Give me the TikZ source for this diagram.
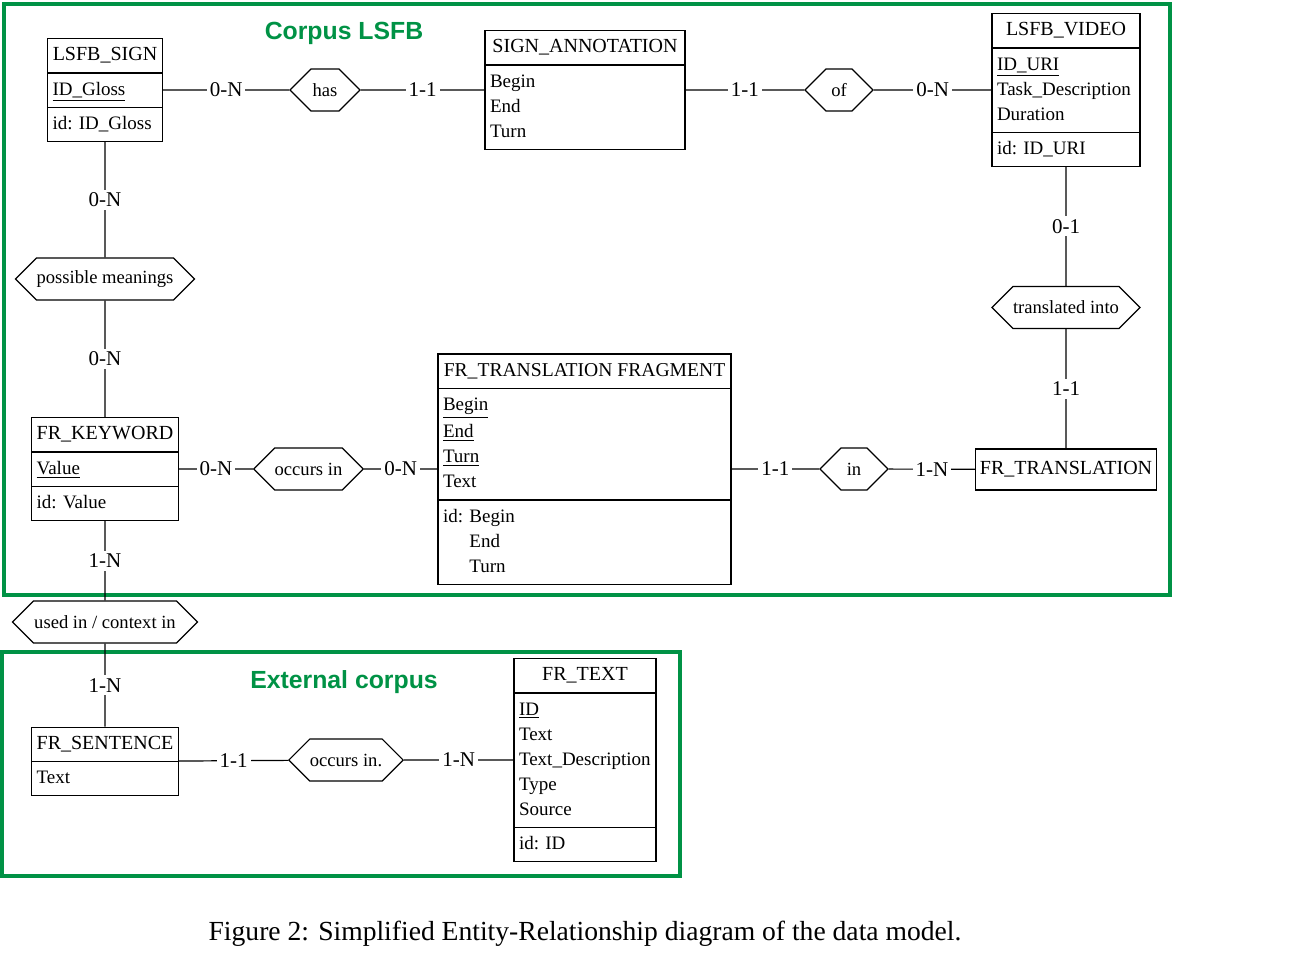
\documentclass[tikz,border=0pt]{standalone}
\usepackage{fontspec}
\setmainfont{Liberation Serif}
\newfontfamily\headfont{Liberation Sans}
\usetikzlibrary{shapes.multipart,shapes.symbols}
\definecolor{framegreen}{RGB}{0,146,69}
\newcommand{\entfont}{\fontsize{10}{12.5}\selectfont}
\newcommand{\attfont}{\fontsize{9.5}{12.5}\selectfont}

\begin{document}
\begin{tikzpicture}[x=0.5pt,y=-0.5pt,
  entity/.style={draw, line width=0.6pt, rectangle split, rectangle split parts=3,
    rectangle split part align={center,left,left}, align=left,
    inner xsep=2.5pt, inner ysep=2pt, font=\attfont},
  relation/.style={draw, line width=0.6pt, signal, signal to=east and west,
    signal pointer angle=90, minimum height=21pt, inner xsep=0pt,
    font=\fontsize{9.3}{11}\selectfont},
  card/.style={fill=white, inner sep=1.5pt, font=\fontsize{10.5}{12.5}\selectfont},
  link/.style={line width=0.6pt},
  frame/.style={draw=framegreen, line width=1.6pt},
  corpus/.style={text=framegreen, font=\headfont\bfseries\fontsize{12.4}{14}\selectfont}]
   \useasboundingbox (0,0) rectangle (1290,975);

   % green corpus frames
   \draw[frame] (4,4) rectangle (1170,595);
   \draw[frame] (2,652) rectangle (680,876);
   \node[corpus] (lsfb) at (344,33) {Corpus LSFB};
   \node[corpus] (external) at (344,682) {External corpus};

   % entities
   \node[entity, minimum width=57.5pt] (sign) at (105,90)
     {\entfont\strut LSFB\_SIGN
      \nodepart{two}\strut\underline{ID\_Gloss}
      \nodepart{three}\strut id: ID\_Gloss};
   \node[entity, rectangle split parts=2, minimum width=100pt] (annot) at (585,90)
     {\entfont\strut SIGN\_ANNOTATION
      \nodepart{two}\strut Begin\\\strut End\\\strut Turn};
   \node[entity, minimum width=74pt] (video) at (1066,90)
     {\entfont\strut LSFB\_VIDEO
      \nodepart{two}\strut\underline{ID\_URI}\\\strut Task\_Description\\\strut Duration
      \nodepart{three}\strut id: ID\_URI};
   \node[entity, minimum width=146.5pt] (fragment) at (584.5,469)
     {\fontsize{9.8}{12.5}\selectfont\strut FR\_TRANSLATION FRAGMENT
      \nodepart{two}\strut\underline{Begin}\\\strut\underline{End}\\\strut\underline{Turn}\\\strut Text
      \nodepart{three}\strut id: Begin\\\strut\phantom{id: }End\\\strut\phantom{id: }Turn};
   \node[entity, minimum width=73pt] (keyword) at (105,469)
     {\entfont\strut FR\_KEYWORD
      \nodepart{two}\strut\underline{Value}
      \nodepart{three}\strut id: Value};
   \node[draw, line width=0.6pt, minimum width=90.5pt, minimum height=20.5pt,
     inner xsep=1pt, font=\entfont] (translation) at (1066,469.5) {FR\_TRANSLATION};
   \node[entity, rectangle split parts=2, minimum width=73pt] (sentence) at (105,761.5)
     {\entfont\strut FR\_SENTENCE
      \nodepart{two}\strut Text};
   \node[entity, minimum width=71pt] (text) at (585,760)
     {\entfont\strut FR\_TEXT
      \nodepart{two}\strut\underline{ID}\\\strut Text\\\strut Text\_Description\\\strut Type\\\strut Source
      \nodepart{three}\strut id: ID};

   % relationships
   \node[relation, minimum width=35pt] (has) at (325,90) {has};
   \node[relation, minimum width=34pt] (of) at (839,90) {of};
   \node[relation, minimum width=88.5pt] (meanings) at (105,279) {possible meanings};
   \node[relation, minimum width=73.5pt] (transinto) at (1066,307.5) {translated into};
   \node[relation, minimum width=54.5pt] (occurs) at (308.5,469) {occurs in};
   \node[relation, minimum width=34pt] (in) at (854,469) {in};
   \node[relation, minimum width=92.5pt] (usedin) at (105,622) {used in / context in};
   \node[relation, minimum width=56pt] (occursin) at (346,760) {occurs in.};

   % links with cardinalities
   \draw[link] (sign) -- node[card] {0-N} (has);
   \draw[link] (has) -- node[card] {1-1} (annot);
   \draw[link] (annot) -- node[card] {1-1} (of);
   \draw[link] (of) -- node[card] {0-N} (video);
   \draw[link] (sign) -- node[card] {0-N} (meanings);
   \draw[link] (meanings) -- node[card] {0-N} (keyword);
   \draw[link] (video) -- node[card] {0-1} (transinto);
   \draw[link] (transinto) -- node[card] {1-1} (translation);
   \draw[link] (keyword) -- node[card] {0-N} (occurs);
   \draw[link] (occurs) -- node[card] {0-N} (fragment);
   \draw[link] (fragment) -- node[card] {1-1} (in);
   \draw[link] (in) -- node[card] {1-N} (translation);
   \draw[link] (keyword) -- node[card] {1-N} (usedin);
   \draw[link] (usedin) -- node[card] {1-N} (sentence);
   \draw[link] (sentence) -- node[card] {1-1} (occursin);
   \draw[link] (occursin) -- node[card] {1-N} (text);

   \node[font=\fontsize{13.8}{16}\selectfont] (caption) at (585,934)
     {Figure 2: Simplified Entity-Relationship diagram of the data model.};
\end{tikzpicture}
\end{document}
